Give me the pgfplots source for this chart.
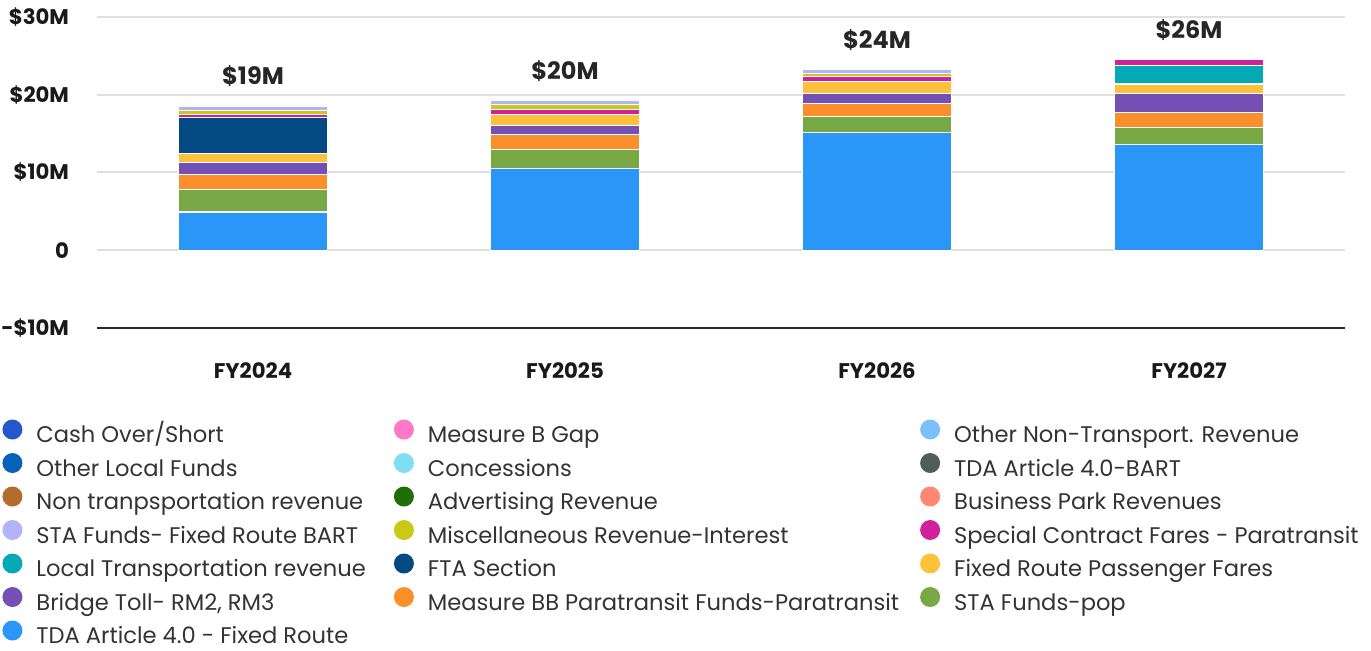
\documentclass[border=0pt]{standalone}
\usepackage{pgfplots}
\pgfplotsset{compat=1.18}
\usepackage{fontspec}
\setmainfont{Poppins}
\definecolor{cTDA}{HTML}{2A96F7}
\definecolor{cSTApop}{HTML}{77A845}
\definecolor{cBB}{HTML}{FB8F2B}
\definecolor{cBridge}{HTML}{7450B5}
\definecolor{cFares}{HTML}{FEC13C}
\definecolor{cFTA}{HTML}{034A85}
\definecolor{cLocal}{HTML}{03A9B4}
\definecolor{cSpecial}{HTML}{D0209A}
\definecolor{cMisc}{HTML}{C9C918}
\definecolor{cSTABART}{HTML}{B3B3FC}
\definecolor{cBiz}{HTML}{FF8870}
\definecolor{cAdv}{HTML}{1F6E08}
\definecolor{cNonT}{HTML}{B36C2E}
\definecolor{cTDABART}{HTML}{4F5E5A}
\definecolor{cConc}{HTML}{7EDEF2}
\definecolor{cOtherLocal}{HTML}{0562B8}
\definecolor{cOtherNon}{HTML}{7CBFFB}
\definecolor{cMBGap}{HTML}{FF78C8}
\definecolor{cCash}{HTML}{2557CC}
\definecolor{txt}{HTML}{333333}
\tikzset{totlab/.style={anchor=base, yshift=10.5pt, font=\bfseries\fontsize{12}{14}\selectfont, text=black!85}}
\begin{document}
\begin{tikzpicture}
\path[use as bounding box] (0,0) rectangle (685.5pt,325.5pt);
\begin{axis}[
  at={(48.5pt,161.5pt)}, anchor=south west,
  scale only axis, width=624pt, height=155.5pt,
  ybar stacked, bar width=74.5pt,
  xmin=-0.5, xmax=3.5, ymin=-10, ymax=30,
  xtick={0,1,2,3}, xticklabels={FY2024,FY2025,FY2026,FY2027},
  ytick={0,10,20,30}, yticklabels={0,\$10M,\$20M,\$30M},
  extra y ticks={-10}, extra y tick labels={-\$10M},
  extra y tick style={grid style={color=black!85, line width=0.8pt}},
  ymajorgrids, grid style={color=black!12, line width=1pt},
  axis line style={draw=none}, tick style={draw=none},
  tick label style={font=\bfseries\fontsize{10.6}{12}\selectfont, text=black!90},
  yticklabel style={xshift=-10.5pt},
  xticklabel style={yshift=-14pt},
  reverse legend,
  legend columns=3,
  legend style={at={(axis description cs:-0.0761,-0.293)}, anchor=north west,
    draw=none, fill=none, inner sep=0pt, row sep=2.75pt,
    font=\fontsize{11.3}{13}\selectfont, text=txt,
    nodes={inner ysep=0pt, text height=8.5pt, text depth=2.5pt},
    /tikz/every odd column/.append style={column sep=5pt},
    /tikz/column 2/.append style={column sep=12pt},
    /tikz/column 4/.append style={column sep=8.5pt}},
  legend cell align=left,
  legend image code/.code={\fill[#1,draw=none] (5pt,3.5pt) circle (5pt);},
  every axis plot/.append style={draw=white, line width=0.6pt},
]
\addplot[fill=cTDA] coordinates {(0,4.93) (1,10.51) (2,15.10) (3,13.60)};
\addplot[fill=cSTApop] coordinates {(0,2.88) (1,2.40) (2,2.15) (3,2.19)};
\addplot[fill=cBB] coordinates {(0,1.97) (1,1.94) (2,1.67) (3,1.93)};
\addplot[fill=cBridge] coordinates {(0,1.46) (1,1.20) (2,1.24) (3,2.45)};
\addplot[fill=cFares] coordinates {(0,1.20) (1,1.46) (2,1.55) (3,1.20)};
\addplot[fill=cFTA] coordinates {(0,4.59) (1,0) (2,0) (3,0)};
\addplot[fill=cLocal] coordinates {(0,0) (1,0) (2,0) (3,2.40)};
\addplot[fill=cSpecial] coordinates {(0,0.46) (1,0.55) (2,0.65) (3,0.73)};
\addplot[fill=cMisc] coordinates {(0,0.48) (1,0.73) (2,0.42) (3,0)};
\addplot[fill=cSTABART] coordinates {(0,0.55) (1,0.48) (2,0.51) (3,0)};
\addplot[fill=cBiz, draw=none] coordinates {(0,0) (1,0) (2,0) (3,0)};
\addplot[fill=cAdv, draw=none] coordinates {(0,0) (1,0) (2,0) (3,0)};
\addplot[fill=cNonT, draw=none] coordinates {(0,0) (1,0) (2,0) (3,0)};
\addplot[fill=cTDABART, draw=none] coordinates {(0,0) (1,0) (2,0) (3,0)};
\addplot[fill=cConc, draw=none] coordinates {(0,0) (1,0) (2,0) (3,0)};
\addplot[fill=cOtherLocal, draw=none] coordinates {(0,0) (1,0) (2,0) (3,0)};
\addplot[fill=cOtherNon, draw=none] coordinates {(0,0) (1,0) (2,0) (3,0)};
\addplot[fill=cMBGap, draw=none] coordinates {(0,0) (1,0) (2,0) (3,0)};
\addplot[fill=cCash, draw=none] coordinates {(0,0) (1,0) (2,0) (3,0)};
\legend{TDA Article 4.0 - Fixed Route, STA Funds-pop, Measure BB Paratransit Funds-Paratransit, {Bridge Toll- RM2, RM3}, Fixed Route Passenger Fares, FTA Section, Local Transportation revenue, Special Contract Fares - Paratransit, Miscellaneous Revenue-Interest, STA Funds- Fixed Route BART, Business Park Revenues, Advertising Revenue, Non tranpsportation revenue, TDA Article 4.0-BART, Concessions, Other Local Funds, Other Non-Transport. Revenue, Measure B Gap, Cash Over/Short}
\node[totlab] at (axis cs:0,18.57) {\$19M};
\node[totlab] at (axis cs:1,19.27) {\$20M};
\node[totlab] at (axis cs:2,23.29) {\$24M};
\node[totlab] at (axis cs:3,24.50) {\$26M};
\end{axis}
\end{tikzpicture}
\end{document}
